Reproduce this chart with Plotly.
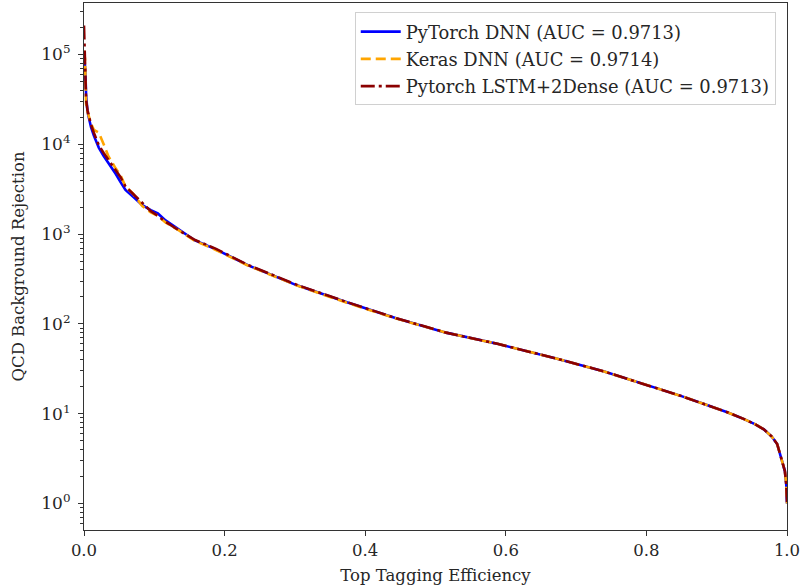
import plotly.graph_objects as go

# Efficiency grid (x) and rejection values (y)
eff = [0.0, 0.0014, 0.0024, 0.003, 0.005, 0.007, 0.01, 0.014, 0.018, 0.021,
       0.028, 0.035, 0.045, 0.052, 0.059, 0.07, 0.083, 0.095, 0.105, 0.116,
       0.135, 0.158, 0.187, 0.233, 0.303, 0.374, 0.444, 0.515, 0.588, 0.673,
       0.74, 0.796, 0.85, 0.882, 0.915, 0.939, 0.955, 0.967, 0.978, 0.986,
       0.993, 0.997, 0.999, 1.0]

rej_pytorch_dnn = [9.5e4, 7.5e4, 5.0e4, 3.5e4, 2.3e4, 1.9e4, 1.55e4, 1.25e4, 1.05e4, 9.2e3,
                   7.4e3, 6.2e3, 4.7e3, 3.8e3, 3.1e3, 2.6e3, 2.1e3, 1.85e3, 1.7e3, 1.42e3,
                   1.12e3, 850, 680, 451, 269, 174, 116, 80, 60, 41,
                   29.5, 21.5, 15.7, 12.8, 10.4, 8.7, 7.6, 6.7, 5.6, 4.6,
                   3.0, 2.3, 1.6, 1.0]

rej_keras_dnn = [1.1e5, 9.0e4, 4.5e4, 2.8e4, 2.3e4, 2.0e4, 1.7e4, 1.45e4, 1.4e4, 1.35e4,
                 1.0e4, 7.3e3, 5.4e3, 4.5e3, 3.4e3, 2.8e3, 2.05e3, 1.75e3, 1.6e3, 1.35e3,
                 1.1e3, 840, 670, 448, 268, 172, 115, 80, 60, 41,
                 29.5, 21.5, 15.7, 12.8, 10.4, 8.7, 7.6, 6.7, 5.6, 4.6,
                 3.0, 2.3, 1.6, 1.0]

rej_pytorch_lstm = [2.1e5, 1.05e5, 5.3e4, 3.1e4, 2.4e4, 2.0e4, 1.65e4, 1.35e4, 1.12e4, 9.8e3,
                    8.0e3, 6.7e3, 5.2e3, 4.3e3, 3.4e3, 2.8e3, 2.2e3, 1.8e3, 1.6e3, 1.37e3,
                    1.1e3, 860, 690, 455, 272, 175, 116, 80, 60, 41,
                    29.5, 21.5, 15.7, 12.8, 10.4, 8.7, 7.6, 6.7, 5.6, 4.6,
                    3.0, 2.3, 1.6, 1.0]

labels = ["PyTorch DNN (AUC = 0.9713)",
          "Keras DNN (AUC = 0.9714)",
          "Pytorch LSTM+2Dense (AUC = 0.9713)"]

x_ticks = [0.0, 0.2, 0.4, 0.6, 0.8, 1.0]
y_exponents = [0, 1, 2, 3, 4, 5]

FONT = "DejaVu Serif"
TXT = "#262626"

fig = go.Figure()
fig.add_trace(go.Scatter(x=eff, y=rej_pytorch_dnn, mode="lines", name=labels[0],
                         legendgroup="a",
                         line=dict(color="#0000ff", width=2.6)))
fig.add_trace(go.Scatter(x=eff, y=rej_keras_dnn, mode="lines", name=labels[1],
                         legendgroup="b",
                         line=dict(color="#ffa500", width=2.6, dash="10px,5px")))
fig.add_trace(go.Scatter(x=eff, y=rej_pytorch_lstm, mode="lines", name=labels[2],
                         legendgroup="c",
                         line=dict(color="#8b0000", width=2.6, dash="14px,4px,3px,4px")))

minor_vals = [m * 10 ** e for e in range(-1, 6) for m in range(2, 10)]

fig.update_layout(
    width=803, height=588,
    margin=dict(l=84, r=16, t=3, b=58),
    paper_bgcolor="white", plot_bgcolor="white",
    font=dict(family=FONT, size=16, color=TXT),
    legend=dict(x=0.984, y=0.982, xanchor="right", yanchor="top",
                bgcolor="rgba(255,255,255,0.8)", bordercolor="#d0d0d0", borderwidth=1,
                font=dict(family=FONT, size=17.9, color=TXT),
                tracegroupgap=1, itemwidth=40),
    showlegend=True,
)

fig.update_xaxes(
    range=[0, 1], tickvals=x_ticks, ticktext=[f"{v:.1f}" for v in x_ticks],
    automargin=False,
    showgrid=False, zeroline=False, showline=True, mirror=True,
    linecolor="#333333", linewidth=1.2, ticks="outside", ticklen=5, tickwidth=1,
    tickcolor="#333333", tickfont=dict(family=FONT, size=16.5, color=TXT),
    title=dict(text="Top Tagging Efficiency", font=dict(family=FONT, size=16.5, color=TXT),
               standoff=10),
)
fig.update_yaxes(
    type="log", range=[-0.295, 5.574],
    tickvals=[10 ** e for e in y_exponents],
    ticktext=[f"10<sup>{e}</sup>" for e in y_exponents],
    automargin=False, ticklabelstandoff=4,
    showgrid=False, zeroline=False, showline=True, mirror=True,
    linecolor="#333333", linewidth=1.2, ticks="outside", ticklen=5, tickwidth=1,
    tickcolor="#333333", tickfont=dict(family=FONT, size=17, color=TXT),
    minor=dict(tickvals=minor_vals, ticks="outside", ticklen=3, tickwidth=0.8,
               tickcolor="#333333", showgrid=False),
    title=dict(text="QCD Background Rejection", font=dict(family=FONT, size=16.5, color=TXT),
               standoff=12),
)

fig.write_html("out.html", config={"displayModeBar": False},
               post_script="document.body.style.margin='0px';")
